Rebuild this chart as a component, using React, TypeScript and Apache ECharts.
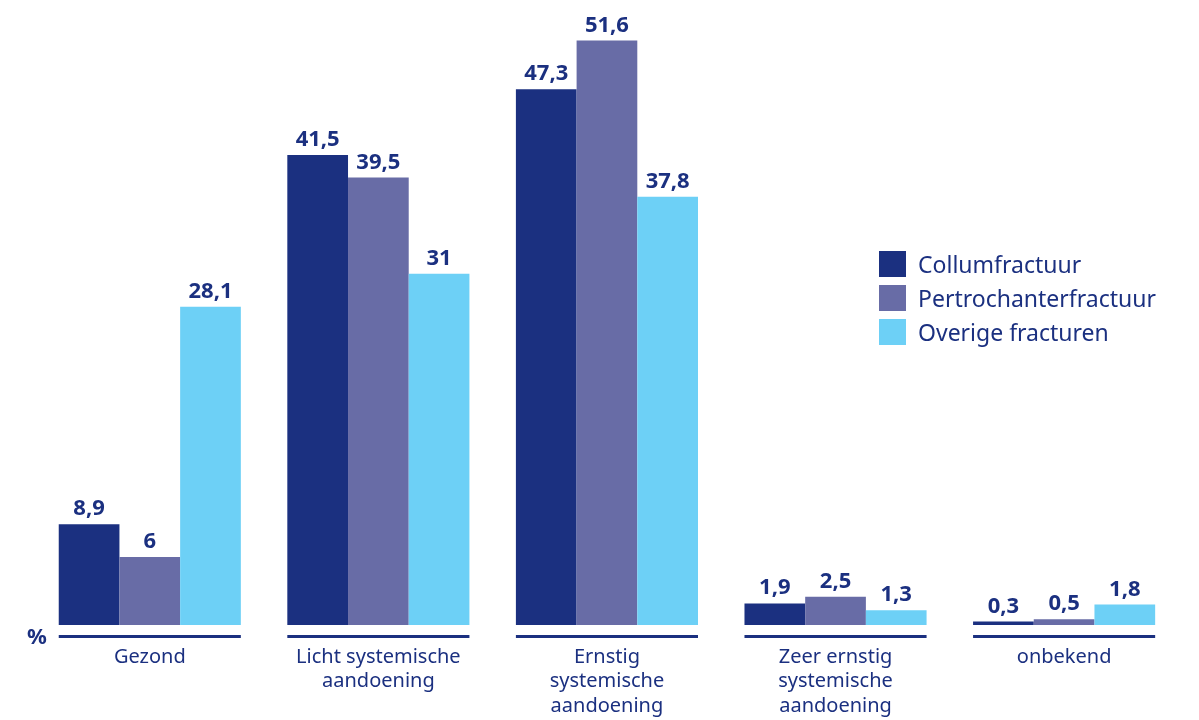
import React, { useEffect, useRef } from "react";
import * as echarts from "echarts";

const categories = [
  "Gezond",
  "Licht systemische\naandoening",
  "Ernstig\nsystemische\naandoening",
  "Zeer ernstig\nsystemische\naandoening",
  "onbekend",
];
const seriesNames = ["Collumfractuur", "Pertrochanterfractuur", "Overige fracturen"];
const collum = [8.9, 41.5, 47.3, 1.9, 0.3];
const pertrochanter = [6, 39.5, 51.6, 2.5, 0.5];
const overige = [28.1, 31, 37.8, 1.3, 1.8];
const colors = ["#1b3080", "#686ca6", "#6dd0f6"];
const textColor = "#1b3080";
const BAR_W = 60.7;

export default function App() {
  const ref = useRef<HTMLDivElement>(null);
  useEffect(() => {
    if (!ref.current) return;
    const chart = echarts.init(ref.current, null, { renderer: "svg" });
    const fmt = (p: any) => String(p.value).replace(".", ",");
    const barSeries = [collum, pertrochanter, overige].map((d, i) => ({
      name: seriesNames[i],
      type: "bar",
      data: d,
      barWidth: BAR_W,
      barGap: "0%",
      itemStyle: { color: colors[i] },
      label: {
        show: true,
        position: "top",
        distance: 7,
        formatter: fmt,
        color: textColor,
        fontSize: 22,
        fontWeight: "bold",
        fontFamily: "Noto Sans",
      },
    }));
    chart.setOption({
      animation: false,
      grid: { left: 35.5, right: 20.6, top: 2, bottom: 95, containLabel: false },
      legend: {
        data: seriesNames,
        orient: "vertical",
        left: 879,
        top: 251,
        padding: 0,
        itemWidth: 27,
        itemHeight: 26,
        itemGap: 8,
        icon: "rect",
        textStyle: { color: textColor, fontSize: 23, fontFamily: "Noto Sans", padding: [0, 0, 0, 7] },
      },
      xAxis: {
        type: "category",
        data: categories,
        axisLine: { show: false },
        axisTick: { show: false },
        axisLabel: {
          interval: 0,
          color: textColor,
          fontSize: 20,
          lineHeight: 24.5,
          margin: 18,
          fontFamily: "Noto Sans",
        },
      },
      yAxis: { type: "value", min: 0, max: 55, show: false, splitLine: { show: false } },
      graphic: [
        {
          type: "text",
          left: 27,
          top: 624,
          style: { text: "%", fill: textColor, fontSize: 22, fontWeight: "bold", fontFamily: "Noto Sans" },
        },
      ],
      series: [
        ...barSeries,
        {
          type: "custom",
          name: "axis",
          silent: true,
          data: categories.map((_, i) => [i, 0]),
          encode: { x: 0, y: 1 },
          renderItem: (params: any, api: any) => {
            const p = api.coord([api.value(0), 0]);
            const half = (BAR_W * 3) / 2;
            return {
              type: "line",
              shape: { x1: p[0] - half, y1: p[1] + 11.5, x2: p[0] + half, y2: p[1] + 11.5 },
              style: { stroke: textColor, lineWidth: 3 },
            };
          },
        },
      ],
    });
    return () => chart.dispose();
  }, []);
  return <div ref={ref} style={{ position: "fixed", left: 0, top: 0, width: 1199, height: 720 }} />;
}
